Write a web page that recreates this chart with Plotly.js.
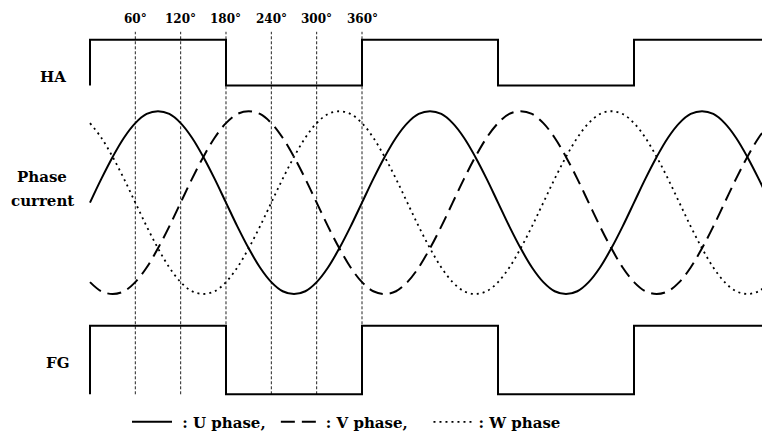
<!DOCTYPE html>
<html>
<head>
<meta charset="utf-8">
<script src="https://cdn.plot.ly/plotly-3.0.1.min.js"></script>
<style>html,body{margin:0;padding:0;background:#fff;}#chart{width:762px;height:439px;}</style>
</head>
<body>
<div id="chart"></div>
<script>
// electrical angle (degrees), sampled every 15°
const angles = [0,15,30,45,60,75,90,105,120,135,150,165,180,195,210,225,240,255,270,285,300,315,330,345,360,375,390,405,420,435,450,465,480,495,510,525,540,555,570,585,600,615,630,645,660,675,690,705,720,735,750,765,780,795,810,825,840,855,870,885,900];
// normalised phase currents
const uPhase = [0,0.26,0.5,0.71,0.87,0.97,1,0.97,0.87,0.71,0.5,0.26,0,-0.26,-0.5,-0.71,-0.87,-0.97,-1,-0.97,-0.87,-0.71,-0.5,-0.26,
  0,0.26,0.5,0.71,0.87,0.97,1,0.97,0.87,0.71,0.5,0.26,0,-0.26,-0.5,-0.71,-0.87,-0.97,-1,-0.97,-0.87,-0.71,-0.5,-0.26,
  0,0.26,0.5,0.71,0.87,0.97,1,0.97,0.87,0.71,0.5,0.26,0];
const vPhase = [-0.87,-0.97,-1,-0.97,-0.87,-0.71,-0.5,-0.26,0,0.26,0.5,0.71,0.87,0.97,1,0.97,0.87,0.71,0.5,0.26,0,-0.26,-0.5,-0.71,
  -0.87,-0.97,-1,-0.97,-0.87,-0.71,-0.5,-0.26,0,0.26,0.5,0.71,0.87,0.97,1,0.97,0.87,0.71,0.5,0.26,0,-0.26,-0.5,-0.71,
  -0.87,-0.97,-1,-0.97,-0.87,-0.71,-0.5,-0.26,0,0.26,0.5,0.71,0.87];
const wPhase = [0.87,0.71,0.5,0.26,0,-0.26,-0.5,-0.71,-0.87,-0.97,-1,-0.97,-0.87,-0.71,-0.5,-0.26,0,0.26,0.5,0.71,0.87,0.97,1,0.97,
  0.87,0.71,0.5,0.26,0,-0.26,-0.5,-0.71,-0.87,-0.97,-1,-0.97,-0.87,-0.71,-0.5,-0.26,0,0.26,0.5,0.71,0.87,0.97,1,0.97,
  0.87,0.71,0.5,0.26,0,-0.26,-0.5,-0.71,-0.87,-0.97,-1,-0.97,-0.87];
// Hall signal HA and FG signal (step levels at edges)
const haEdges = [0,0,180,360,540,720,900];
const haLevels = [0,1,0,1,0,1,1];
const fgEdges = [0,0,180,360,540,720,900];
const fgLevels = [0,1,0,1,0,1,1];
// reference angle markers
const markerAngles = [60,120,180,240,300,360];
const markerLabels = ['60°','120°','180°','240°','300°','360°'];
const seriesNames = ['\u00a0: U phase,\u00a0', ': V phase,\u00a0\u00a0\u00a0', ': W phase'];

const FONT = 'DejaVu Serif';
const traces = [
  {x: haEdges, y: haLevels, yaxis: 'y', mode: 'lines', line: {shape: 'hv', color: '#000', width: 2}, showlegend: false, hoverinfo: 'skip'},
  {x: fgEdges, y: fgLevels, yaxis: 'y3', mode: 'lines', line: {shape: 'hv', color: '#000', width: 2}, showlegend: false, hoverinfo: 'skip'},
  {x: angles, y: uPhase, yaxis: 'y2', mode: 'lines', name: seriesNames[0], line: {shape: 'spline', color: '#000', width: 2}},
  {x: angles, y: vPhase, yaxis: 'y2', mode: 'lines', name: seriesNames[1], line: {shape: 'spline', color: '#000', width: 2, dash: '14px,7px'}},
  {x: angles, y: wPhase, yaxis: 'y2', mode: 'lines', name: seriesNames[2], line: {shape: 'spline', color: '#000', width: 1.8, dash: '2px,4px'}}
];

const pxToPaperY = py => 1 - py / 439;
const shapes = markerAngles.map(a => ({
  type: 'line', xref: 'x', yref: 'paper', x0: a, x1: a, y0: pxToPaperY(397), y1: pxToPaperY(32),
  line: {color: '#222', width: 1, dash: '3px,2px'}, layer: 'below'
}));

const annotations = markerAngles.map((a, i) => ({
  xref: 'x', yref: 'paper', x: a, y: pxToPaperY(19), text: markerLabels[i], showarrow: false,
  xanchor: 'center', yanchor: 'middle', font: {family: FONT, size: 12, color: '#000', weight: 'bold'}
}));
const sideLabels = [
  {text: 'HA', px: 53, py: 78},
  {text: 'Phase', px: 42, py: 178},
  {text: 'current', px: 42, py: 202},
  {text: 'FG', px: 57, py: 366}
];
sideLabels.forEach(l => annotations.push({
  xref: 'paper', yref: 'paper', x: l.px / 762, y: pxToPaperY(l.py), text: l.text, showarrow: false,
  xanchor: 'center', yanchor: 'middle', font: {family: FONT, size: 15, color: '#000', weight: 'bold'}
}));

const axisOff = {showgrid: false, zeroline: false, showticklabels: false, ticks: '', showline: false, fixedrange: true};
const layout = {
  width: 762, height: 439,
  margin: {l: 0, r: 0, t: 0, b: 0, pad: 0},
  paper_bgcolor: '#fff', plot_bgcolor: '#fff',
  xaxis: Object.assign({range: [-119.1, 889.4]}, axisOff),
  yaxis: Object.assign({range: [-0.1, 1.1], domain: [1 - 90.6/439, 1 - 35.4/439]}, axisOff),
  yaxis2: Object.assign({range: [-1.1, 1.1], domain: [1 - 305.2/439, 1 - 102.8/439]}, axisOff),
  yaxis3: Object.assign({range: [-0.1, 1.1], domain: [1 - 403.9/439, 1 - 321.1/439]}, axisOff),
  shapes: shapes,
  annotations: annotations,
  showlegend: true,
  legend: {orientation: 'h', x: 127/762, xanchor: 'left', y: pxToPaperY(425), yanchor: 'middle',
    itemwidth: 40,
    bgcolor: 'rgba(0,0,0,0)', borderwidth: 0,
    font: {family: FONT, size: 15, color: '#000', weight: 'bold'}}
};

Plotly.newPlot('chart', traces, layout, {staticPlot: true, displayModeBar: false});
</script>
</body>
</html>
